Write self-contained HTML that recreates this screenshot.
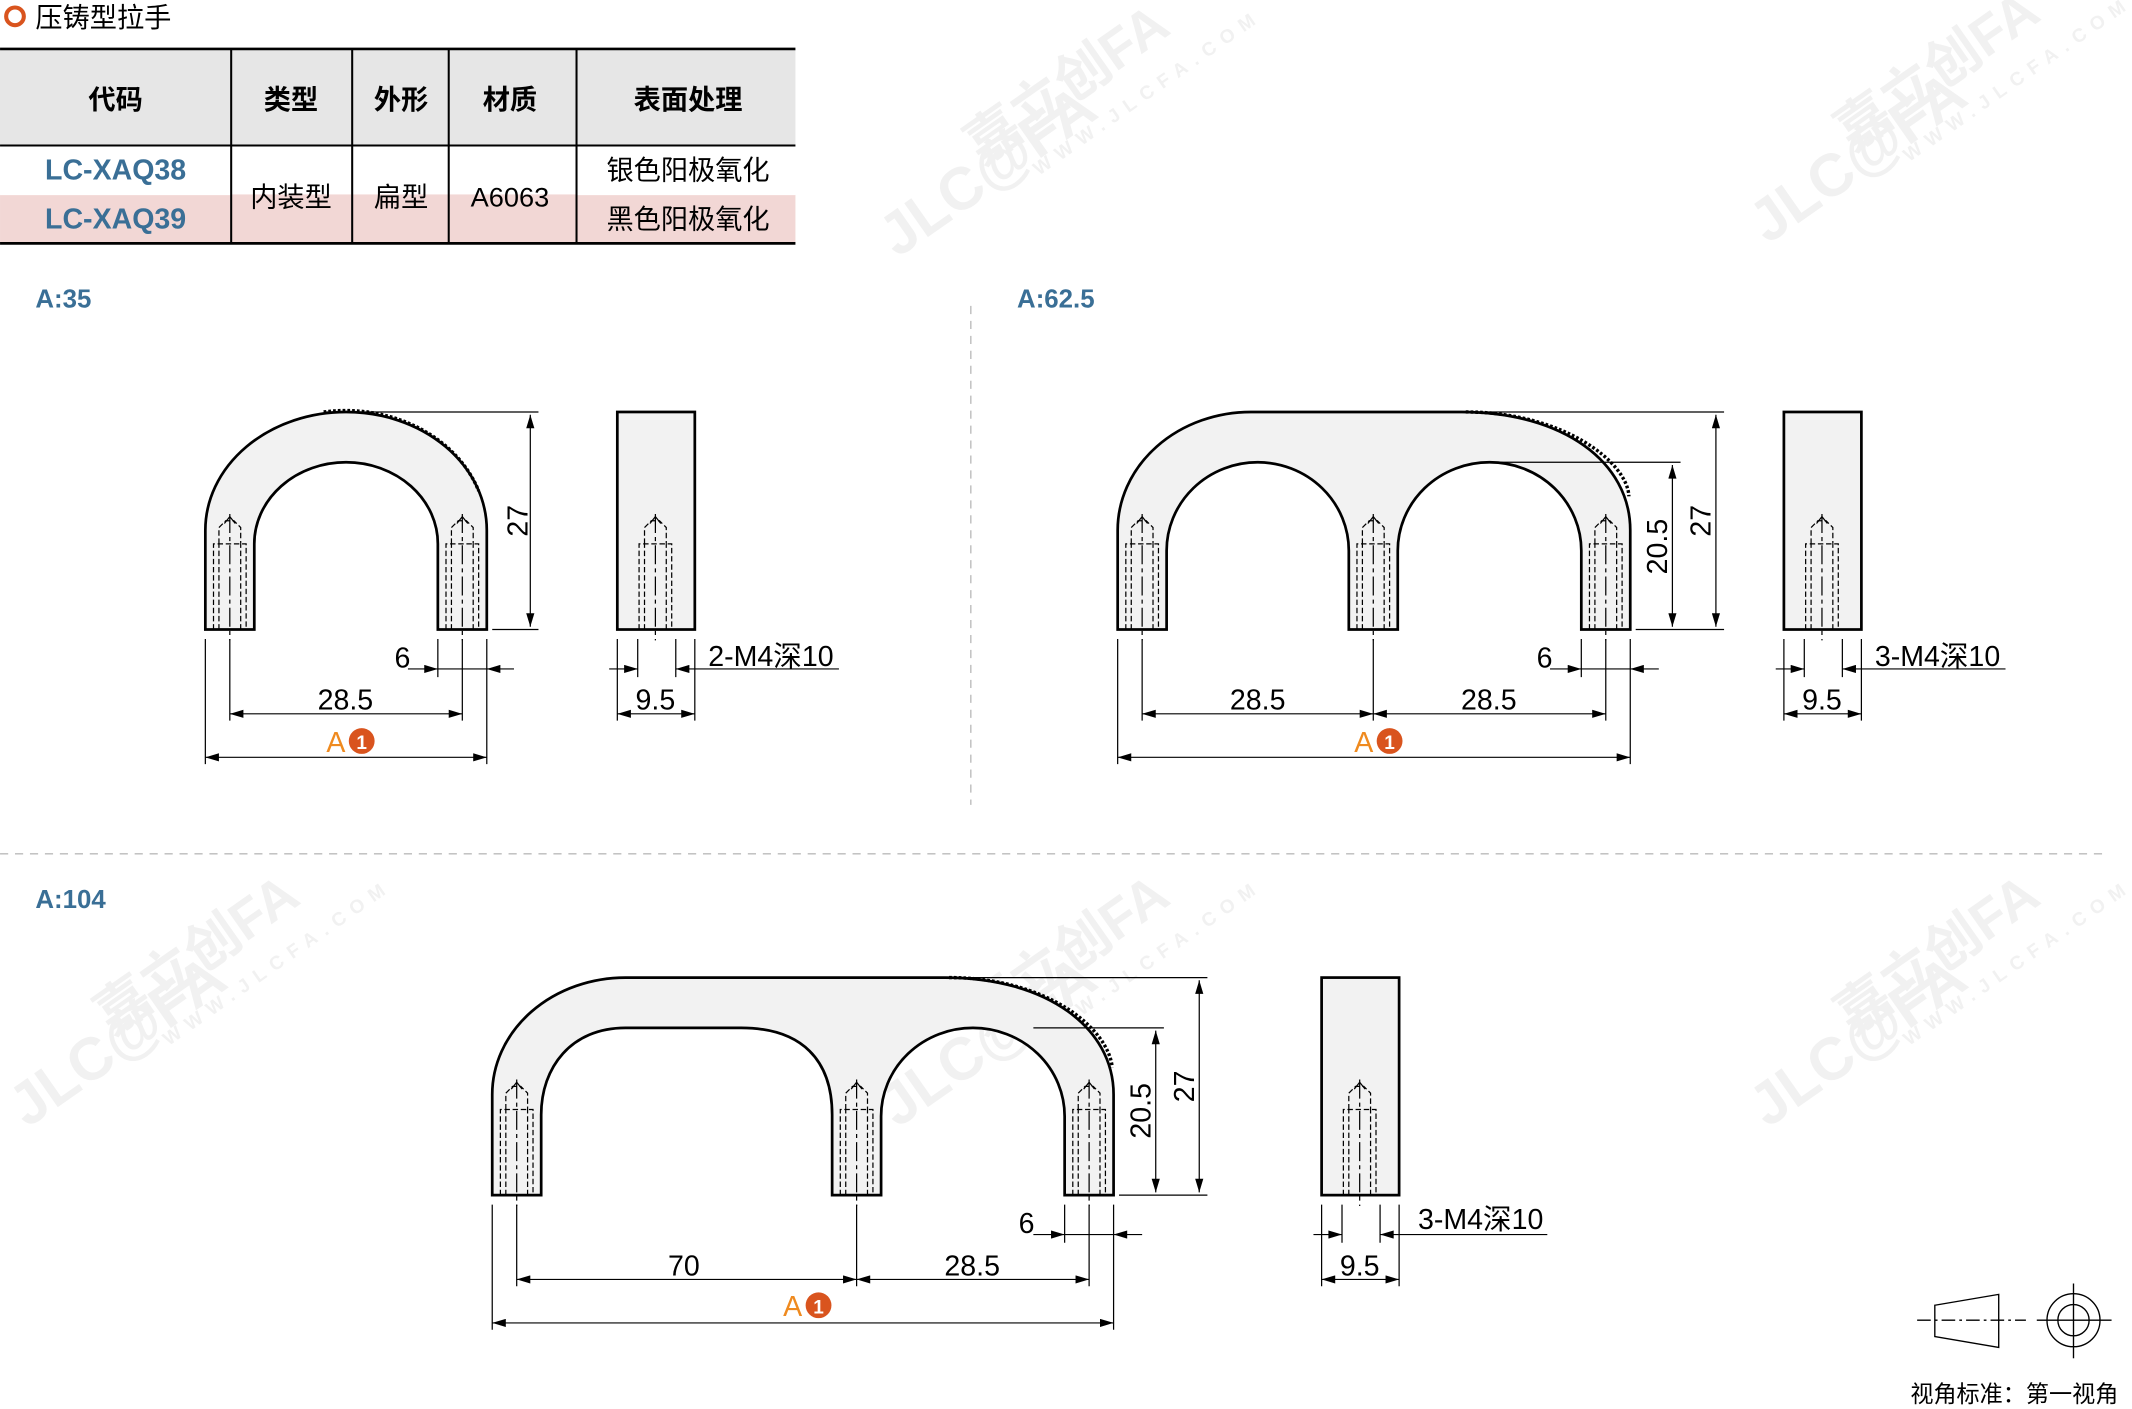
<!DOCTYPE html>
<html><head><meta charset="utf-8"><style>
html,body{margin:0;padding:0;background:#fff;}
svg{display:block;}
text{font-family:"Liberation Sans","Noto Sans CJK SC",sans-serif;}
</style></head><body>
<svg width="2132" height="1409" viewBox="0 0 1568 1036.3" xmlns="http://www.w3.org/2000/svg">
<defs>
<marker id="a" viewBox="0 0 10 6" refX="10" refY="3" markerWidth="18" markerHeight="6" markerUnits="userSpaceOnUse" orient="auto-start-reverse"><path d="M0,0 L10,3 L0,6 Z" fill="#000"/></marker>
<g id="hole" fill="none" stroke="#000" stroke-width="0.9">
<line x1="0" y1="-85" x2="0" y2="8" stroke-dasharray="14,3,3,3"/>
<path d="M-12,0 V-63 H12 V0 M-8,0 V-63 M8,0 V-63" stroke-dasharray="4,2"/>
<path d="M-8,-63 V-75 L-3,-80 H3 L8,-75 V-63" stroke-dasharray="4,2"/>
<path d="M-4,-78 L0,-83 L4,-78" />
</g>
<g id="wm" fill="#f1f1f1" font-weight="bold">
<text x="0" y="0" font-size="44" transform="rotate(-35)">JLC@FA</text>
<text x="90" y="-20" font-size="40" transform="rotate(-35)">嘉立创FA</text>
<text x="120" y="10" font-size="14" letter-spacing="6" transform="rotate(-35)">WWW.JLCFA.COM</text>
</g>
</defs>

<use href="#wm" x="660" y="190"/>
<use href="#wm" x="1300" y="180"/>
<use href="#wm" x="20" y="830"/>
<use href="#wm" x="660" y="830"/>
<use href="#wm" x="1300" y="830"/>

<circle cx="11" cy="12" r="6.5" fill="none" stroke="#d9541e" stroke-width="3"/>
<text x="26" y="20" font-size="20">压铸型拉手</text>

<rect x="0" y="36" width="585" height="71" fill="#e6e6e6"/>
<rect x="0" y="143" width="585" height="36" fill="#f2d7d5"/>
<line x1="0" y1="36" x2="585" y2="36" stroke="#000" stroke-width="2"/>
<line x1="0" y1="107" x2="585" y2="107" stroke="#000" stroke-width="1.5"/>
<line x1="0" y1="143" x2="170" y2="143" stroke="#fff" stroke-width="1"/>
<line x1="424" y1="143" x2="585" y2="143" stroke="#fff" stroke-width="1"/>
<line x1="0" y1="179" x2="585" y2="179" stroke="#000" stroke-width="2"/>
<g stroke="#000" stroke-width="1.5">
<line x1="170" y1="36" x2="170" y2="179"/><line x1="259" y1="36" x2="259" y2="179"/>
<line x1="330" y1="36" x2="330" y2="179"/><line x1="424" y1="36" x2="424" y2="179"/>
</g>
<g font-size="20" text-anchor="middle">
<g font-weight="bold"><text x="85" y="80">代码</text><text x="214" y="80">类型</text><text x="295" y="80">外形</text><text x="375" y="80">材质</text><text x="506" y="80">表面处理</text></g>
<text x="214" y="152">内装型</text><text x="295" y="152">扁型</text><text x="375" y="152">A6063</text>
<text x="506" y="132">银色阳极氧化</text><text x="506" y="168">黑色阳极氧化</text>
<text x="85" y="132" fill="#3a6f96" font-weight="bold" font-size="21">LC-XAQ38</text>
<text x="85" y="168" fill="#3a6f96" font-weight="bold" font-size="21">LC-XAQ39</text>
</g>

<g fill="#3a6f96" font-weight="bold" font-size="19">
<text x="26" y="226">A:35</text><text x="748" y="226">A:62.5</text><text x="26" y="668">A:104</text>
</g>
<line x1="714" y1="225" x2="714" y2="592" stroke="#bbb" stroke-dasharray="6,5"/>
<line x1="0" y1="628" x2="1550" y2="628" stroke="#bbb" stroke-dasharray="6,5"/>

<g fill="#f2f2f2" stroke="#000" stroke-width="2">
<path d="M151,463 L151,390 A103.5,87 0 0 1 358,390 L358,463 L322,463 L322,400 A67.5,60 0 0 0 187,400 L187,463 Z"/>
<rect x="454" y="303" width="57" height="160"/>
<path d="M822,463 L822,390 A98,87 0 0 1 920,303 L1075,303 C1150,303 1199,340 1199,390 L1199,463 L1163,463 L1163,405 A67.5,65 0 0 0 1028,405 L1028,463 L992,463 L992,405 A67,65 0 0 0 858,405 L858,463 Z"/>
<rect x="1312" y="303" width="57" height="160"/>
<path d="M362,879 L362,805 A98,86 0 0 1 460,719 L695,719 C770,719 819,756 819,805 L819,879 L783,879 L783,821 A67.5,65 0 0 0 648,821 L648,879 L612,879 L612,820 C612,780 590,756 545,756 L460,756 C420,756 398,785 398,820 L398,879 Z"/>
<rect x="972" y="719" width="57" height="160"/>
</g>
<g fill="none" stroke="#000" stroke-width="2.5" stroke-dasharray="2,1.5">
<path d="M238,304 A103.5,87 0 0 1 352,362" transform="translate(0,-1)"/>
<path d="M1078,303 C1150,303 1197,340 1198,365"/>
<path d="M698,719 C770,719 815,756 818,785"/>
</g>

<use href="#hole" x="169" y="463"/><use href="#hole" x="340" y="463"/><use href="#hole" x="482" y="463"/>
<use href="#hole" x="840" y="463"/><use href="#hole" x="1010" y="463"/><use href="#hole" x="1181" y="463"/><use href="#hole" x="1340" y="463"/>
<use href="#hole" x="380" y="879"/><use href="#hole" x="630" y="879"/><use href="#hole" x="801" y="879"/><use href="#hole" x="1000" y="879"/>

<g stroke="#000" stroke-width="0.9" fill="none">
<path d="M240,303 H396 M362,463 H396 M151,470 V562 M169,470 V530 M322,470 V498 M340,470 V530 M358,470 V562 M454,470 V530 M469,470 V498 M497,470 V498 M511,470 V530"/>
<line x1="390" y1="305" x2="390" y2="461" marker-start="url(#a)" marker-end="url(#a)"/>
<line x1="300" y1="492" x2="322" y2="492" marker-end="url(#a)"/>
<line x1="378" y1="492" x2="358" y2="492" marker-end="url(#a)"/>
<line x1="322" y1="492" x2="358" y2="492"/>
<line x1="169" y1="525" x2="340" y2="525" marker-start="url(#a)" marker-end="url(#a)"/>
<line x1="151" y1="557" x2="358" y2="557" marker-start="url(#a)" marker-end="url(#a)"/>
<line x1="454" y1="525" x2="511" y2="525" marker-start="url(#a)" marker-end="url(#a)"/>
<line x1="448" y1="492" x2="469" y2="492" marker-end="url(#a)"/>
<line x1="617" y1="492" x2="497" y2="492" marker-end="url(#a)"/>
<path d="M1080,303 H1268 M1100,340 H1236 M1203,463 H1268 M822,470 V562 M840,470 V530 M1010,470 V530 M1163,470 V498 M1181,470 V530 M1199,470 V562 M1312,470 V530 M1327,470 V498 M1355,470 V498 M1369,470 V530"/>
<line x1="1262" y1="305" x2="1262" y2="461" marker-start="url(#a)" marker-end="url(#a)"/>
<line x1="1230" y1="342" x2="1230" y2="461" marker-start="url(#a)" marker-end="url(#a)"/>
<line x1="1140" y1="492" x2="1163" y2="492" marker-end="url(#a)"/>
<line x1="1220" y1="492" x2="1199" y2="492" marker-end="url(#a)"/>
<line x1="1163" y1="492" x2="1199" y2="492"/>
<line x1="840" y1="525" x2="1010" y2="525" marker-start="url(#a)" marker-end="url(#a)"/>
<line x1="1010" y1="525" x2="1181" y2="525" marker-start="url(#a)" marker-end="url(#a)"/>
<line x1="822" y1="557" x2="1199" y2="557" marker-start="url(#a)" marker-end="url(#a)"/>
<line x1="1312" y1="525" x2="1369" y2="525" marker-start="url(#a)" marker-end="url(#a)"/>
<line x1="1306" y1="492" x2="1327" y2="492" marker-end="url(#a)"/>
<line x1="1475" y1="492" x2="1355" y2="492" marker-end="url(#a)"/>
<path d="M700,719 H888 M760,756 H856 M823,879 H888 M362,886 V978 M380,886 V946 M630,886 V946 M783,886 V914 M801,886 V946 M819,886 V978 M972,886 V946 M987,886 V914 M1015,886 V914 M1029,886 V946"/>
<line x1="882" y1="721" x2="882" y2="877" marker-start="url(#a)" marker-end="url(#a)"/>
<line x1="850" y1="758" x2="850" y2="877" marker-start="url(#a)" marker-end="url(#a)"/>
<line x1="760" y1="908" x2="783" y2="908" marker-end="url(#a)"/>
<line x1="840" y1="908" x2="819" y2="908" marker-end="url(#a)"/>
<line x1="783" y1="908" x2="819" y2="908"/>
<line x1="380" y1="941" x2="630" y2="941" marker-start="url(#a)" marker-end="url(#a)"/>
<line x1="630" y1="941" x2="801" y2="941" marker-start="url(#a)" marker-end="url(#a)"/>
<line x1="362" y1="973" x2="819" y2="973" marker-start="url(#a)" marker-end="url(#a)"/>
<line x1="972" y1="941" x2="1029" y2="941" marker-start="url(#a)" marker-end="url(#a)"/>
<line x1="966" y1="908" x2="987" y2="908" marker-end="url(#a)"/>
<line x1="1138" y1="908" x2="1015" y2="908" marker-end="url(#a)"/>
</g>

<g font-size="21" text-anchor="middle">
<text x="296" y="491">6</text><text x="254" y="522">28.5</text><text x="482" y="522">9.5</text>
<text x="567" y="490">2-M4深10</text>
<text transform="translate(388,383) rotate(-90)">27</text>
<text x="1136" y="491">6</text><text x="925" y="522">28.5</text><text x="1095" y="522">28.5</text><text x="1340" y="522">9.5</text>
<text x="1425" y="490">3-M4深10</text>
<text transform="translate(1258,383) rotate(-90)">27</text>
<text transform="translate(1226,402) rotate(-90)">20.5</text>
<text x="755" y="907">6</text><text x="503" y="938">70</text><text x="715" y="938">28.5</text><text x="1000" y="938">9.5</text>
<text x="1089" y="904">3-M4深10</text>
<text transform="translate(878,799) rotate(-90)">27</text>
<text transform="translate(846,817) rotate(-90)">20.5</text>
</g>
<g font-size="21">
<text x="240" y="553" fill="#ef8a1f">A</text><circle cx="266" cy="545" r="9.5" fill="#d9541e"/><text x="266" y="551" fill="#fff" font-size="14" font-weight="bold" text-anchor="middle">1</text>
<text x="996" y="553" fill="#ef8a1f">A</text><circle cx="1022" cy="545" r="9.5" fill="#d9541e"/><text x="1022" y="551" fill="#fff" font-size="14" font-weight="bold" text-anchor="middle">1</text>
<text x="576" y="968" fill="#ef8a1f">A</text><circle cx="602" cy="960" r="9.5" fill="#d9541e"/><text x="602" y="966" fill="#fff" font-size="14" font-weight="bold" text-anchor="middle">1</text>
</g>

<g stroke="#000" stroke-width="1" fill="none">
<path d="M1423,960 L1470,952 L1470,991 L1423,983 Z"/>
<line x1="1410" y1="971" x2="1490" y2="971" stroke-dasharray="10,3,2,3"/>
<circle cx="1525" cy="971" r="19.5"/><circle cx="1525" cy="971" r="11.5"/>
<line x1="1498" y1="971" x2="1553" y2="971"/><line x1="1525" y1="944" x2="1525" y2="999"/>
</g>
<text x="1405" y="1031" font-size="17">视角标准：第一视角</text>
</svg>
</body></html>
